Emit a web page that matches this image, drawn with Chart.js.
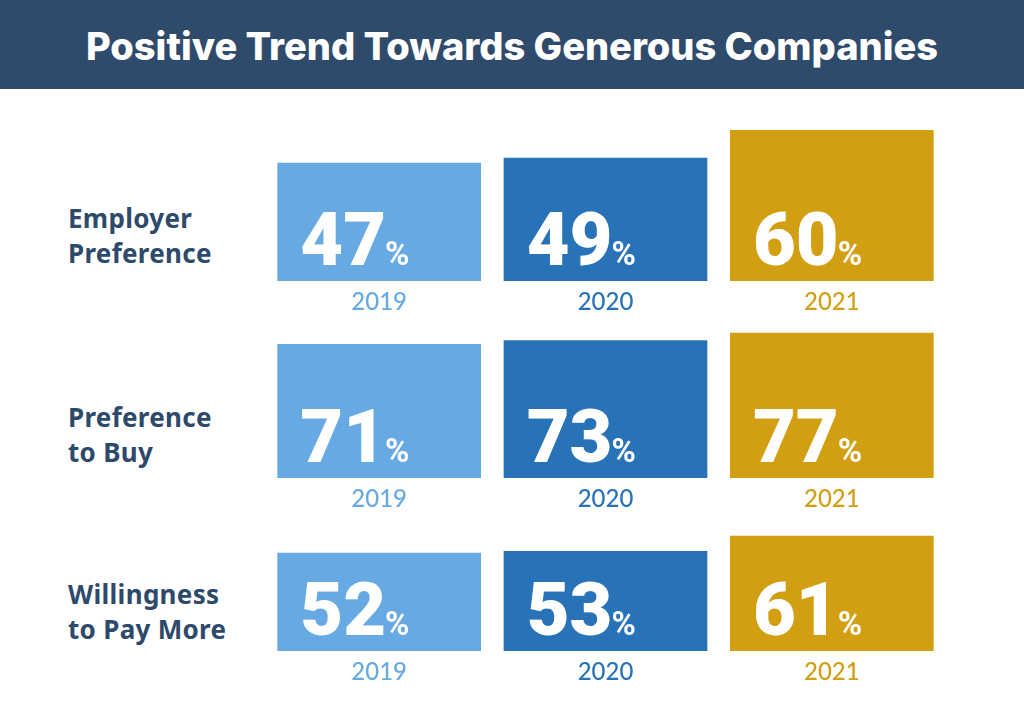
<!DOCTYPE html>
<html>
<head>
<meta charset="utf-8">
<script src="https://cdn.jsdelivr.net/npm/chart.js@4.4.1/dist/chart.umd.min.js"></script>
<style>
  html, body { margin: 0; padding: 0; background: #fff; }
  #page { position: relative; width: 1024px; height: 717px; overflow: hidden; }
  #title {
    position: absolute; left: 0; top: 0; width: 1024px; height: 89px;
    background: #2f4b6c; color: #fff; text-align: center;
    font: 800 38px Inter, sans-serif; line-height: 92px;
  }
  .rowLabel {
    position: absolute; left: 68px; color: #2e4a6b;
    font: 700 26px "Noto Sans", sans-serif; line-height: 35px; letter-spacing: 0.3px;
  }
  .rowChart { position: absolute; left: 266px; width: 679px; height: 195px; }
</style>
</head>
<body>
<div id="page">
  <div id="title">Positive Trend Towards Generous Companies</div>
</div>
<script>
const years = ["2019", "2020", "2021"];
const yearColors = ["#67a9e3", "#2873b8", "#d29e12"];

const rowNames = [
  ["Employer", "Preference"],
  ["Preference", "to Buy"],
  ["Willingness", "to Pay More"],
];
const employerPreference = [47, 49, 60];
const preferenceToBuy = [71, 73, 77];
const willingnessToPayMore = [52, 53, 61];
const rowScaleMax = [60, 80, 80];

const rowValues = [employerPreference, preferenceToBuy, willingnessToPayMore];
const chartTops = [130, 327, 500];
const labelTops = [201, 400, 577];

// white "47%" style labels sitting near the bottom-left of each bar
const percentLabels = {
  id: "percentLabels",
  afterDatasetsDraw(chart) {
    const { ctx } = chart;
    const values = chart.data.datasets[0].data;
    ctx.save();
    ctx.fillStyle = "#fff";
    ctx.textAlign = "left";
    ctx.textBaseline = "alphabetic";
    chart.getDatasetMeta(0).data.forEach((bar, i) => {
      const left = bar.x - bar.width / 2 + 23;
      const baseline = bar.base - 16;
      const num = String(values[i]);
      ctx.font = "900 74px Roboto";
      ctx.fillText(num, left, baseline);
      const w = ctx.measureText(num).width;
      ctx.font = "700 33px Roboto";
      ctx.fillText("%", left + w - 1, baseline);
    });
    ctx.restore();
  },
};

const page = document.getElementById("page");

rowValues.forEach((values, row) => {
  const label = document.createElement("div");
  label.className = "rowLabel";
  label.style.top = labelTops[row] + "px";
  label.innerHTML = rowNames[row].join("<br>");
  page.appendChild(label);

  const box = document.createElement("div");
  box.className = "rowChart";
  box.style.top = chartTops[row] + "px";
  const canvas = document.createElement("canvas");
  box.appendChild(canvas);
  page.appendChild(box);

  new Chart(canvas, {
    type: "bar",
    data: {
      labels: years,
      datasets: [{
        data: values,
        backgroundColor: yearColors,
        borderWidth: 0,
        categoryPercentage: 1,
        barPercentage: 0.9,
      }],
    },
    options: {
      responsive: true,
      maintainAspectRatio: false,
      animation: false,
      layout: { padding: 0 },
      plugins: { legend: { display: false }, tooltip: { enabled: false } },
      scales: {
        x: {
          grid: { display: false, drawTicks: false },
          border: { display: false },
          ticks: {
            color: (c) => yearColors[c.index],
            font: { family: "Lato", size: 24, weight: "500" },
            padding: 7,
          },
          afterFit(scale) { scale.height = 44; },
        },
        y: { display: false, min: 0, max: rowScaleMax[row] },
      },
    },
    plugins: [percentLabels],
  });
});
</script>
</body>
</html>
